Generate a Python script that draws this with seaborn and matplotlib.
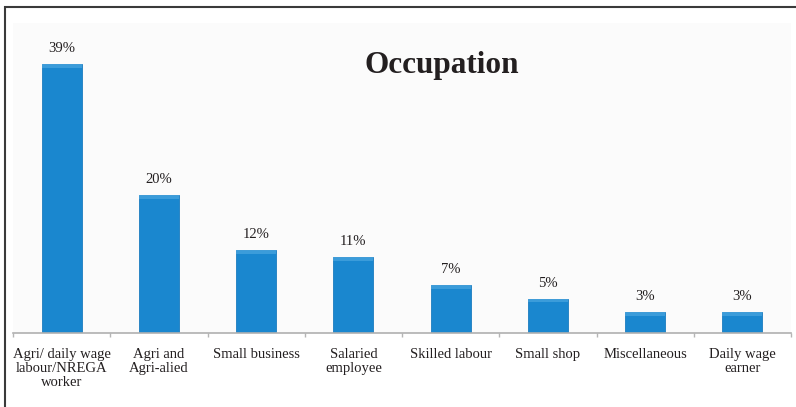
import matplotlib
matplotlib.use("Agg")
import matplotlib.pyplot as plt
from matplotlib.patches import Rectangle
import seaborn as sns
import pandas as pd

categories = [
    "Agri/ daily wage\nlabour/NREGA\nworker",
    "Agri and\nAgri-alied",
    "Small business",
    "Salaried\nemployee",
    "Skilled labour",
    "Small shop",
    "Miscellaneous",
    "Daily wage\nearner",
]
shares = [39, 20, 12, 11, 7, 5, 3, 3]
value_labels = ["39%", "20%", "12%", "11%", "7%", "5%", "3%", "3%"]

df = pd.DataFrame({"occupation": categories, "share": shares})

sns.set_theme(style="white")
plt.rcParams["font.family"] = ["Liberation Serif", "DejaVu Serif"]

W, H = 796, 407
fig = plt.figure(figsize=(W / 100, H / 100), dpi=100)
fig.patch.set_facecolor("white")

ax = fig.add_axes([13 / W, (H - 333) / H, (791 - 13) / W, (333 - 23) / H])
ax.set_facecolor("#fbfbfb")

sns.barplot(data=df, x="occupation", y="share", color="#1a87cf",
            width=0.41, saturation=1, edgecolor="#1c7cc0", linewidth=0.6,
            ax=ax)

# soft highlight along the top of each bar
for bar in ax.patches[:]:
    x, w, h = bar.get_x(), bar.get_width(), bar.get_height()
    ax.add_patch(Rectangle((x, h - 0.55), w, 0.55, facecolor="#4aa6e0",
                           edgecolor="none", alpha=0.7,
                           zorder=bar.get_zorder() + 0.1))

ax.set_xlim(-0.5, len(categories) - 0.5)
ax.set_ylim(0, 45)
ax.set_xlabel("")
ax.set_ylabel("")
ax.set_yticks([])

for i, (v, lab) in enumerate(zip(shares, value_labels)):
    ax.text(i, v + 1.3, lab, ha="center", va="bottom", fontsize=10.5,
            color="#231f20")

ax.tick_params(axis="x", which="major", length=0, pad=10.5, labelsize=10.5,
               labelcolor="#231f20")
for t in ax.get_xticklabels():
    t.set_linespacing(1.12)
ax.set_xticks([i + 0.5 for i in range(-1, len(categories))], minor=True)
ax.tick_params(axis="x", which="minor", length=3, width=1, color="#b5b5b5",
               bottom=True)

for side in ["left", "right", "top"]:
    ax.spines[side].set_visible(False)
ax.spines["bottom"].set_color("#b0b0b0")
ax.spines["bottom"].set_linewidth(1.2)

fig.text(442 / W, 1 - 66 / H, "Occupation", ha="center", va="center",
         fontsize=22.5, fontweight="bold", color="#231f20")

# frame around the figure
fig.patches.append(Rectangle((5 / W, -0.05), 1.1, 1 - 7 / H + 0.05,
                             transform=fig.transFigure, fill=False,
                             edgecolor="#3a3a3a", linewidth=1.5))

fig.savefig("out.png", dpi=100, facecolor="white")
